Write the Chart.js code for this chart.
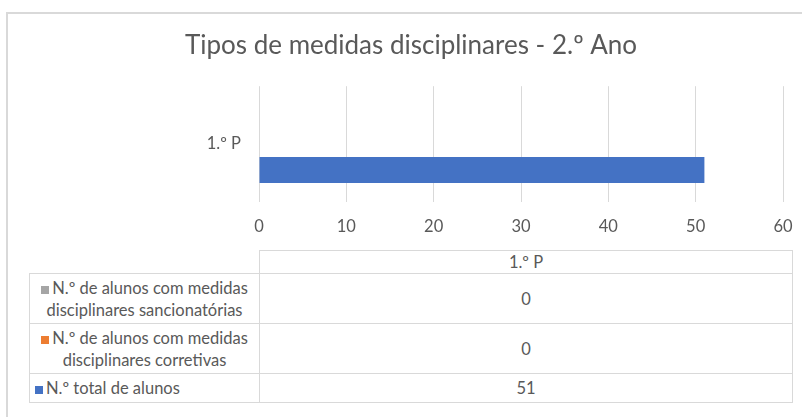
<!DOCTYPE html>
<html>
<head>
<meta charset="utf-8">
<script src="https://cdn.jsdelivr.net/npm/chart.js@4.4.1/dist/chart.umd.min.js"></script>
<style>
    body { margin: 0; background: #fff; overflow: hidden; width: 802px; height: 417px; }
    #frame { position: absolute; left: 6px; top: 12px; width: 900px; height: 500px; border: 2px solid #d9d9d9; box-sizing: border-box; }
    #chart { position: absolute; left: 0; top: 0; }
    #data-table { position: absolute; left: 29px; top: 250px; border-collapse: collapse; font-family: Lato, sans-serif; font-size: 16.5px; color: #595959; table-layout: fixed; }
    #data-table td { border: 1px solid #d9d9d9; padding: 0 5px; line-height: 22px; }
    #data-table td.empty { border: none; }
    #data-table td.val { text-align: center; }
    #data-table td.lbl { text-align: center; }
    #data-table td.lbl.left { text-align: left; }
    .key { display: inline-block; width: 8px; height: 8px; margin-right: 3px; }
</style>
</head>
<body>
<div id="frame"></div>
<canvas id="chart" width="802" height="250"></canvas>
<table id="data-table">
    <colgroup><col style="width:230px"><col style="width:533px"></colgroup>
    <tbody id="table-body"></tbody>
</table>
<script>
const categories = ['1.º P'];
const seriesNames = [
    'N.º de alunos com medidas disciplinares sancionatórias',
    'N.º de alunos com medidas disciplinares corretivas',
    'N.º total de alunos'
];
const sancionatorias = [0];
const corretivas = [0];
const totalAlunos = [51];
const xTicks = [0, 10, 20, 30, 40, 50, 60];
const seriesColors = ['#a5a5a5', '#ed7d31', '#4472c4'];

const seriesValues = [sancionatorias, corretivas, totalAlunos];
const textColor = '#595959';

new Chart(document.querySelector('#chart'), {
    type: 'bar',
    data: {
        labels: categories,
        datasets: seriesNames.map((name, i) => ({
            label: name,
            data: seriesValues[i],
            backgroundColor: seriesColors[i],
            borderWidth: 0
        }))
    },
    options: {
        indexAxis: 'y',
        responsive: false,
        animation: false,
        categoryPercentage: 0.672,
        barPercentage: 1,
        // left padding keeps the title centred on the (wider) excel chart frame
        layout: {padding: {left: 39, right: 19, top: 0, bottom: 0}},
        plugins: {
            legend: {display: false},
            tooltip: {enabled: false},
            title: {
                display: true,
                text: 'Tipos de medidas disciplinares - 2.º Ano',
                color: textColor,
                font: {family: 'Lato', size: 26, weight: 'normal'},
                padding: {top: 30, bottom: 25}
            }
        },
        scales: {
            x: {
                min: xTicks[0],
                max: xTicks[xTicks.length - 1],
                afterBuildTicks: (scale) => {
                    scale.ticks = xTicks.map(v => ({value: v}));
                },
                ticks: {color: textColor, font: {family: 'Lato', size: 16.5}, padding: 15},
                grid: {color: '#d9d9d9', drawTicks: false},
                border: {display: false},
                afterFit: (scale) => {
                    scale.height = 48;
                    scale.paddingLeft = 0;
                    scale.paddingRight = 0;
                }
            },
            y: {
                ticks: {color: textColor, font: {family: 'Lato', size: 16.5}, padding: 10},
                grid: {display: false},
                border: {display: false},
                afterFit: (scale) => {
                    scale.width = 220;
                }
            }
        }
    }
});

// data table under the chart
const body = document.querySelector('#table-body');
let html = '<tr style="height:22px"><td class="empty"></td><td class="val">' + categories[0] + '</td></tr>';
const rowHeights = [50, 50, 29];
for (let i = 0; i < seriesNames.length; i++) {
    const cls = i === seriesNames.length - 1 ? 'lbl left' : 'lbl';
    html += '<tr style="height:' + rowHeights[i] + 'px"><td class="' + cls + '">'
        + '<span class="key" style="background:' + seriesColors[i] + '"></span>' + seriesNames[i]
        + '</td><td class="val">' + seriesValues[i][0] + '</td></tr>';
}
body.innerHTML = html;
</script>
</body>
</html>
